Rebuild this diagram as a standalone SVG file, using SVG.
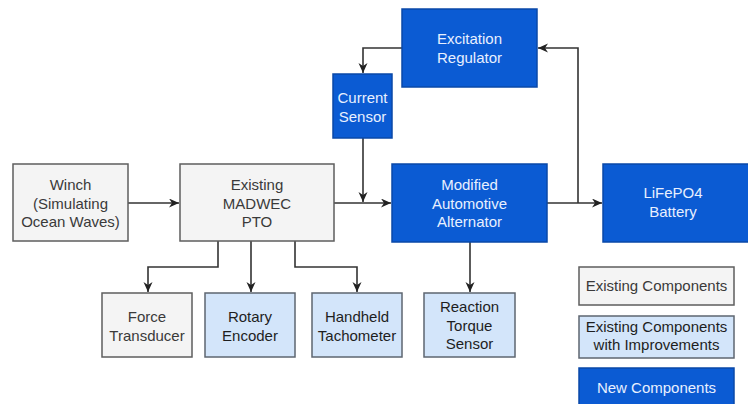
<svg xmlns="http://www.w3.org/2000/svg" width="748" height="404" viewBox="0 0 748 404">
<defs>
<style>
.box rect{stroke-width:1.5}
.grey rect{fill:#f4f4f4;stroke:#5e5e5e}
.light rect{fill:#d3e5fa;stroke:#5e6670}
.blue rect{fill:#0b5bd3;stroke:#0a48a8}
text{font-family:"Liberation Sans",Arial,sans-serif;font-size:15px;text-anchor:middle}
.grey text{fill:#3a3a3a}
.light text{fill:#1e1e1e}
.blue text{fill:#e8f0ff}
.conn path{fill:none;stroke:#333;stroke-width:1.6}
</style>
<marker id="arr" markerUnits="userSpaceOnUse" markerWidth="11" markerHeight="10" refX="10" refY="4.5" orient="auto">
<path d="M0,0 L10,4.5 L0,9 L3,4.5 z" fill="#222"/>
</marker>
</defs>
<rect width="748" height="404" fill="#ffffff"/>
<g class="conn">
<path d="M128,203 H179" marker-end="url(#arr)"/>
<path d="M334,203 H391" marker-end="url(#arr)"/>
<path d="M363,138 V202" marker-end="url(#arr)"/>
<path d="M402,48 H363 V73" marker-end="url(#arr)"/>
<path d="M547,203 H602" marker-end="url(#arr)"/>
<path d="M578,203 V48 H538" marker-end="url(#arr)"/>
<path d="M218,241 V267 H148 V292" marker-end="url(#arr)"/>
<path d="M251,241 V292" marker-end="url(#arr)"/>
<path d="M295,241 V267 H357 V292" marker-end="url(#arr)"/>
<path d="M470,242 V292" marker-end="url(#arr)"/>
</g>
<g id="winch" class="box grey">
<rect x="13" y="164" width="115" height="77"/>
<text x="70.5" y="190">Winch</text>
<text x="70.5" y="208.5">(Simulating</text>
<text x="70.5" y="227">Ocean Waves)</text>
</g>
<g id="madwec" class="box grey">
<rect x="180" y="164" width="154" height="77"/>
<text x="257" y="190">Existing</text>
<text x="257" y="208.5">MADWEC</text>
<text x="257" y="227">PTO</text>
</g>
<g id="alternator" class="box blue">
<rect x="392" y="164" width="155" height="78"/>
<text x="469.5" y="190">Modified</text>
<text x="469.5" y="208.5">Automotive</text>
<text x="469.5" y="227">Alternator</text>
</g>
<g id="excitation" class="box blue">
<rect x="402" y="9" width="135" height="78"/>
<text x="469.5" y="44">Excitation</text>
<text x="469.5" y="62.5">Regulator</text>
</g>
<g id="current" class="box blue">
<rect x="333" y="74" width="59" height="64"/>
<text x="362.5" y="103">Current</text>
<text x="362.5" y="122">Sensor</text>
</g>
<g id="battery" class="box blue">
<rect x="603" y="164" width="147" height="78"/>
<text x="673" y="198">LiFePO4</text>
<text x="673" y="217">Battery</text>
</g>
<g id="force" class="box grey">
<rect x="102" y="293" width="90" height="64"/>
<text x="147" y="322">Force</text>
<text x="147" y="341">Transducer</text>
</g>
<g id="rotary" class="box light">
<rect x="205" y="293" width="90" height="64"/>
<text x="250" y="322">Rotary</text>
<text x="250" y="341">Encoder</text>
</g>
<g id="tacho" class="box light">
<rect x="312" y="293" width="90" height="64"/>
<text x="357" y="322">Handheld</text>
<text x="357" y="341">Tachometer</text>
</g>
<g id="torque" class="box light">
<rect x="424" y="293" width="91" height="64"/>
<text x="469.5" y="312">Reaction</text>
<text x="469.5" y="331">Torque</text>
<text x="469.5" y="349">Sensor</text>
</g>
<g id="legend-existing" class="box grey">
<rect x="579" y="267" width="155" height="38"/>
<text x="656.5" y="291">Existing Components</text>
</g>
<g id="legend-improved" class="box light">
<rect x="579" y="316" width="155" height="42"/>
<text x="656.5" y="332">Existing Components</text>
<text x="656.5" y="349.5">with Improvements</text>
</g>
<g id="legend-new" class="box blue">
<rect x="579" y="368" width="155" height="40"/>
<text x="656.5" y="393">New Components</text>
</g>
</svg>
